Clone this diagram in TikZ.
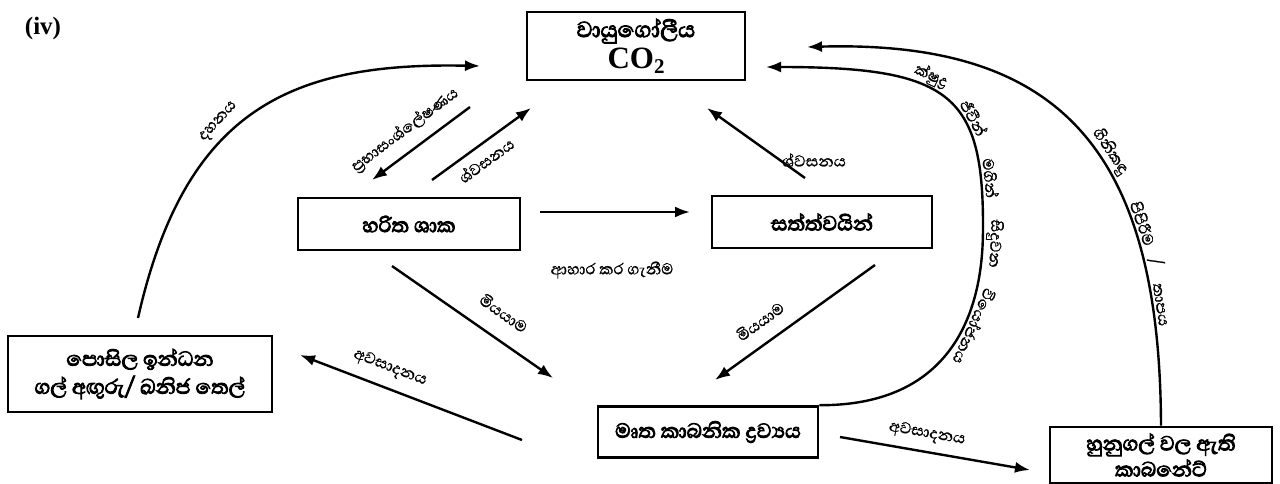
\documentclass[tikz,border=0pt]{standalone}
\usepackage{fontspec}
\setmainfont{Liberation Serif}
\newfontfamily\sinhfont[Script=Sinhala,FakeBold=1]{Abhaya Libre}
\newfontfamily\sinhbold[Script=Sinhala,FakeBold=3.5]{Abhaya Libre}
\usetikzlibrary{arrows.meta}
\begin{document}
\begin{tikzpicture}[x=1pt,y=-1pt,
  box/.style={draw, line width=2.6pt, inner sep=0pt, align=center,
    font=\sinhbold\fontsize{26}{30}\selectfont},
  arr/.style={line width=2.4pt, -{Latex[length=15pt,width=11pt]}},
  lbl/.style={font=\sinhfont\fontsize{20}{22}\selectfont, inner sep=1pt},
  clbl/.style={lbl, sloped, allow upside down, above=2pt},
]
\useasboundingbox[fill=white] (0,0) rectangle (1280,484);

% nodes
\node[font=\bfseries\fontsize{25}{28}\selectfont] (iv) at (43,28) {(iv)};
\node[box, minimum width=218pt, minimum height=68pt] (co2) at (636,46)
  {{\fontsize{28}{28}\selectfont වායුගෝලීය}\\[1pt]{\rmfamily\bfseries\fontsize{31}{31}\selectfont CO\raisebox{-5pt}{\fontsize{21}{21}\selectfont 2}}};
\node[box, minimum width=222pt, minimum height=52pt] (plants) at (409,224) {හරිත ශාක};
\node[box, minimum width=220pt, minimum height=52pt] (animals) at (822,222) {සත්ත්වයින්};
\node[box, minimum width=264pt, minimum height=76pt] (fossil) at (140,374)
  {පොසිල ඉන්ධන\\[-2pt]ගල් අඟුරු/ ඛනිජ තෙල්};
\node[box, minimum width=220pt, minimum height=51pt] (org) at (708,432) {මෘත කාබනික ද්‍රව්‍යය};
\node[box, minimum width=222pt, minimum height=56pt] (lime) at (1161,455)
  {හුනුගල් වල ඇති\\[-4pt]කාබනේට්};

% coordinates for free ends
\coordinate (dS) at (138,318);   \coordinate (dE) at (480,66);
\coordinate (phS) at (470,107);  \coordinate (phE) at (372,180);
\coordinate (rpS) at (432,180);  \coordinate (rpE) at (531,108);
\coordinate (raS) at (805,178);  \coordinate (raE) at (707,108);
\coordinate (fdS) at (540,212);  \coordinate (fdE) at (690,212);
\coordinate (mpS) at (392,266);  \coordinate (mpE) at (553,378);
\coordinate (maS) at (875,265);  \coordinate (maE) at (715,380);
\coordinate (sfS) at (522,440);  \coordinate (sfE) at (300,355);
\coordinate (slS) at (840,437);  \coordinate (slE) at (1030,470);
\coordinate (iP) at (983,225);   \coordinate (iE) at (766,67);
\coordinate (oE) at (807,47);

% connectors
\draw[arr] (dS) .. controls (185,110) and (290,62) .. (dE);
\draw[arr] (phS) -- (phE);
\draw[arr] (rpS) -- (rpE);
\draw[arr] (raS) -- (raE);
\draw[arr] (fdS) -- (fdE);
\draw[arr] (mpS) -- (mpE);
\draw[arr] (maS) -- (maE);
\draw[arr] (sfS) -- (sfE);
\draw[arr] (slS) -- (slE);
\draw[arr] (org.north east) .. controls (982,406) and (983,264) .. (iP)
  .. controls (983,94) and (949,67) .. (iE);
\draw[arr] (lime.north) .. controls (1160,150) and (1060,40) .. (oE);

% labels
\node[lbl, rotate=47] (l1) at (219,122) {දහනය};
\node[lbl, rotate=36.7] (l2) at (405,130) {ප්‍රභාසංශ්ලේෂණය};
\node[lbl, rotate=36] (l3) at (486,160) {ශ්වසනය};
\node[lbl] (l4) at (814,160) {ශ්වසනය};
\node[lbl] (l5) at (612,270) {ආහාර කර ගැනීම};
\node[lbl, rotate=-35] (l6) at (504,313) {මියයාම};
\node[lbl, rotate=36] (l7) at (760,321) {මියයාම};
\node[lbl, rotate=-21] (l8) at (390,368) {අවසාදනය};
\node[lbl, rotate=-10] (l9) at (927,434) {අවසාදනය};

% curved labels
\path (iE) .. controls (949,67) and (983,94) .. (iP)
  node[clbl, pos=0.42] {ක්ෂුද්‍ර}
  node[clbl, pos=0.65] {ජීවීන්}
  node[clbl, pos=0.87] {මගින්}
  .. controls (983,264) and (982,406) .. (org.north east)
  node[clbl, pos=0.12] {සිදුවන}
  node[clbl, pos=0.47] {වියෝජනය};
\path (oE) .. controls (1060,40) and (1160,150) .. (lime.north)
  node[clbl, pos=0.57] {ගිනිකඳු}
  node[clbl, pos=0.71] {පිපිරීම}
  node[clbl, pos=0.775] {/}
  node[clbl, pos=0.84] {තාපය};
\end{tikzpicture}
\end{document}
